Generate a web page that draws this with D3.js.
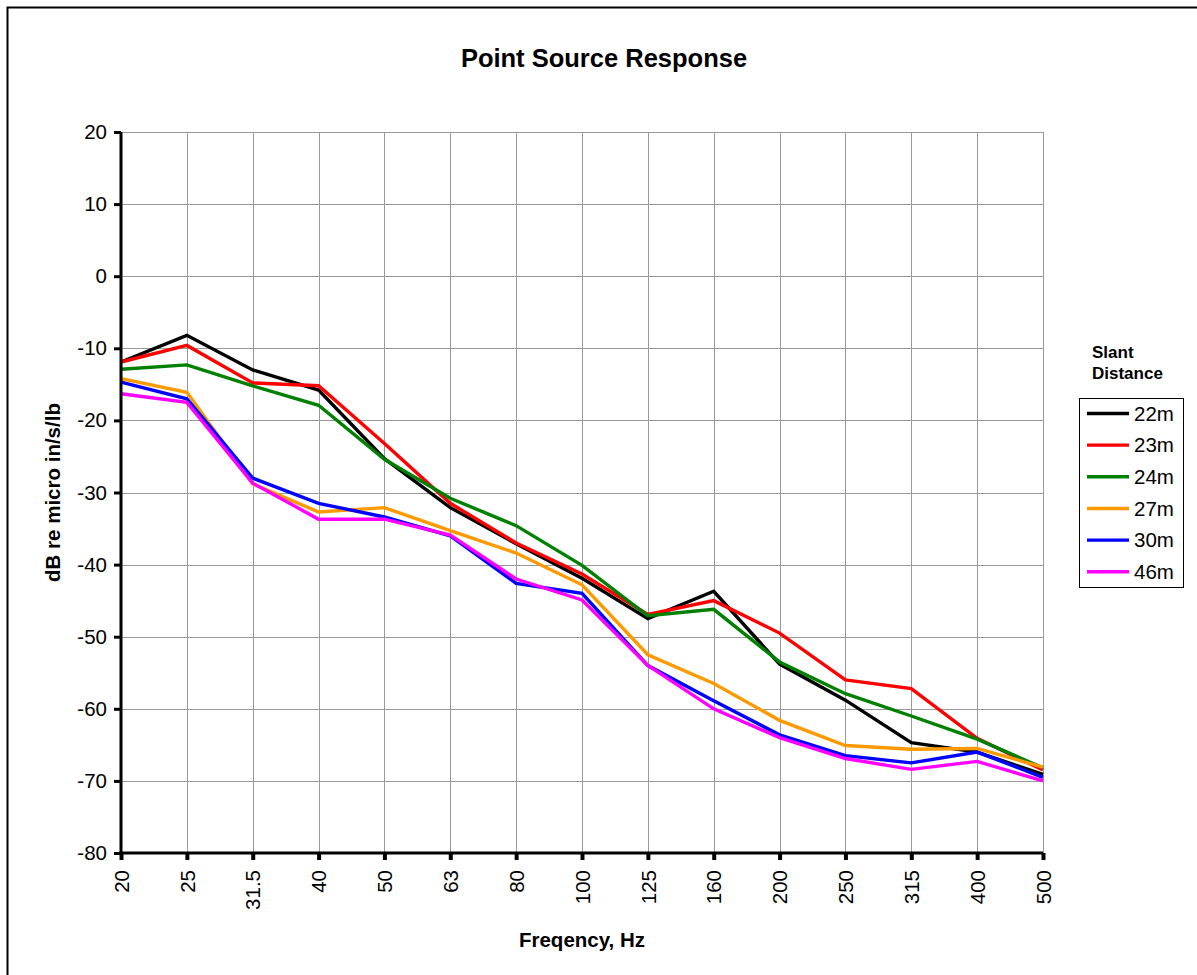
<!DOCTYPE html>
<html>
<head>
<meta charset="utf-8">
<script src="https://cdn.jsdelivr.net/npm/d3@7"></script>
<style>
    body { margin: 0; background: #fff; }
    svg { display: block; font-family: "Liberation Sans", Arial, sans-serif; }
</style>
</head>
<body>
<div id="chart"></div>
<script>
var categories = ["20", "25", "31.5", "40", "50", "63", "80", "100", "125", "160", "200", "250", "315", "400", "500"];
var yTicks = [20, 10, 0, -10, -20, -30, -40, -50, -60, -70, -80];

var seriesNames = ["22m", "23m", "24m", "27m", "30m", "46m"];
var s22 = [-11.9, -8.2, -13.0, -15.8, -25.3, -32.1, -37.1, -41.9, -47.5, -43.7, -53.8, -58.8, -64.7, -66.0, -69.1];
var s23 = [-11.9, -9.6, -14.8, -15.2, -23.2, -31.5, -37.0, -41.3, -46.9, -45.0, -49.5, -56.0, -57.2, -64.1, -68.5];
var s24 = [-12.9, -12.3, -15.2, -17.9, -25.4, -30.8, -34.6, -40.1, -47.1, -46.2, -53.5, -57.9, -61.0, -64.2, -68.2];
var s27 = [-14.2, -16.1, -28.8, -32.7, -32.1, -35.3, -38.4, -42.8, -52.5, -56.5, -61.6, -65.1, -65.6, -65.5, -68.1];
var s30 = [-14.7, -17.0, -28.0, -31.5, -33.4, -36.0, -42.6, -44.0, -54.0, -58.9, -63.6, -66.5, -67.5, -66.0, -69.5];
var s46 = [-16.3, -17.5, -28.7, -33.7, -33.7, -35.9, -42.0, -44.9, -54.0, -60.0, -64.0, -66.9, -68.4, -67.3, -70.0];
var seriesValues = [s22, s23, s24, s27, s30, s46];
var seriesColors = ["#000000", "#ff0000", "#008000", "#ff9900", "#0000ff", "#ff00ff"];

var width = 1197, height = 975;
var plot = {left: 121, top: 132, right: 1043, bottom: 853};

var svg = d3.select("#chart").append("svg")
    .attr("width", width)
    .attr("height", height);

// outer chart frame (right/bottom fall outside the picture)
svg.append("rect")
    .attr("x", 7.5).attr("y", 7.5)
    .attr("width", 1200).attr("height", 1000)
    .attr("fill", "#fff")
    .attr("stroke", "#000")
    .attr("stroke-width", 2);

var x = d3.scalePoint().domain(categories).range([plot.left, plot.right]);
var y = d3.scaleLinear().domain([-80, 20]).range([plot.bottom, plot.top]);

// grid
svg.append("g").selectAll("line").data(yTicks).enter().append("line")
    .attr("x1", plot.left).attr("x2", plot.right)
    .attr("y1", function(d) { return Math.round(y(d)) + 0.5; })
    .attr("y2", function(d) { return Math.round(y(d)) + 0.5; })
    .attr("stroke", "#999").attr("stroke-width", 1);
svg.append("g").selectAll("line").data(categories).enter().append("line")
    .attr("x1", function(d) { return Math.round(x(d)) + 0.5; })
    .attr("x2", function(d) { return Math.round(x(d)) + 0.5; })
    .attr("y1", plot.top).attr("y2", plot.bottom)
    .attr("stroke", "#999").attr("stroke-width", 1);

// lines
var line = d3.line()
    .x(function(d, i) { return x(categories[i]); })
    .y(function(d) { return y(d); });

svg.append("g").selectAll("path").data(seriesValues).enter().append("path")
    .attr("d", line)
    .attr("fill", "none")
    .attr("stroke", function(d, i) { return seriesColors[i]; })
    .attr("stroke-width", 3.4)
    .attr("stroke-linejoin", "miter");

// axes
var yAxis = d3.axisLeft(y).tickValues(yTicks).tickSize(7).tickPadding(7)
    .tickFormat(function(d) { return String(d); });
var gY = svg.append("g")
    .attr("transform", "translate(" + plot.left + ",0)")
    .call(yAxis);
gY.select(".domain").remove();
gY.selectAll(".tick line").attr("stroke", "#000").attr("stroke-width", 3);
gY.selectAll(".tick text").attr("font-size", 20.5).attr("fill", "#000")
    .attr("font-family", "Liberation Sans, Arial, sans-serif");

var xAxis = d3.axisBottom(x).tickSize(7);
var gX = svg.append("g")
    .attr("transform", "translate(0," + plot.bottom + ")")
    .call(xAxis);
gX.select(".domain").remove();
gX.selectAll(".tick line").attr("stroke", "#000").attr("stroke-width", 4);
gX.selectAll(".tick text")
    .attr("font-size", 20.5).attr("fill", "#000")
    .attr("font-family", "Liberation Sans, Arial, sans-serif")
    .attr("transform", "rotate(-90)")
    .attr("text-anchor", "end")
    .attr("x", -17).attr("y", 0).attr("dy", "0.35em");

svg.append("line")
    .attr("x1", plot.left).attr("x2", plot.left)
    .attr("y1", plot.top).attr("y2", plot.bottom + 1.5)
    .attr("stroke", "#000").attr("stroke-width", 3);
svg.append("line")
    .attr("x1", plot.left - 1.5).attr("x2", plot.right)
    .attr("y1", plot.bottom).attr("y2", plot.bottom)
    .attr("stroke", "#000").attr("stroke-width", 3);

// titles
svg.append("text")
    .attr("x", 604).attr("y", 67)
    .attr("text-anchor", "middle")
    .attr("font-size", 25.5).attr("font-weight", "bold")
    .text("Point Source Response");

svg.append("text")
    .attr("transform", "translate(60," + ((plot.top + plot.bottom) / 2) + ") rotate(-90)")
    .attr("text-anchor", "middle")
    .attr("font-size", 20.5).attr("font-weight", "bold")
    .text("dB re micro in/s/lb");

svg.append("text")
    .attr("x", (plot.left + plot.right) / 2).attr("y", 947)
    .attr("text-anchor", "middle")
    .attr("font-size", 20.5).attr("font-weight", "bold")
    .text("Freqency, Hz");

// legend
svg.append("text").attr("x", 1092).attr("y", 358)
    .attr("font-size", 17).attr("font-weight", "bold").text("Slant");
svg.append("text").attr("x", 1092).attr("y", 379)
    .attr("font-size", 17).attr("font-weight", "bold").text("Distance");

var legend = svg.append("g");
legend.append("rect")
    .attr("x", 1079.5).attr("y", 398.5)
    .attr("width", 104).attr("height", 189)
    .attr("fill", "#fff").attr("stroke", "#000").attr("stroke-width", 1);

var item = legend.selectAll("g.item").data(seriesNames).enter().append("g")
    .attr("class", "item")
    .attr("transform", function(d, i) { return "translate(0," + (413.5 + i * 31.65) + ")"; });
item.append("line")
    .attr("x1", 1087).attr("x2", 1129)
    .attr("stroke", function(d, i) { return seriesColors[i]; })
    .attr("stroke-width", 3.4);
item.append("text")
    .attr("x", 1134).attr("dy", "0.35em")
    .attr("font-size", 20.5)
    .text(function(d) { return d; });
</script>
</body>
</html>
